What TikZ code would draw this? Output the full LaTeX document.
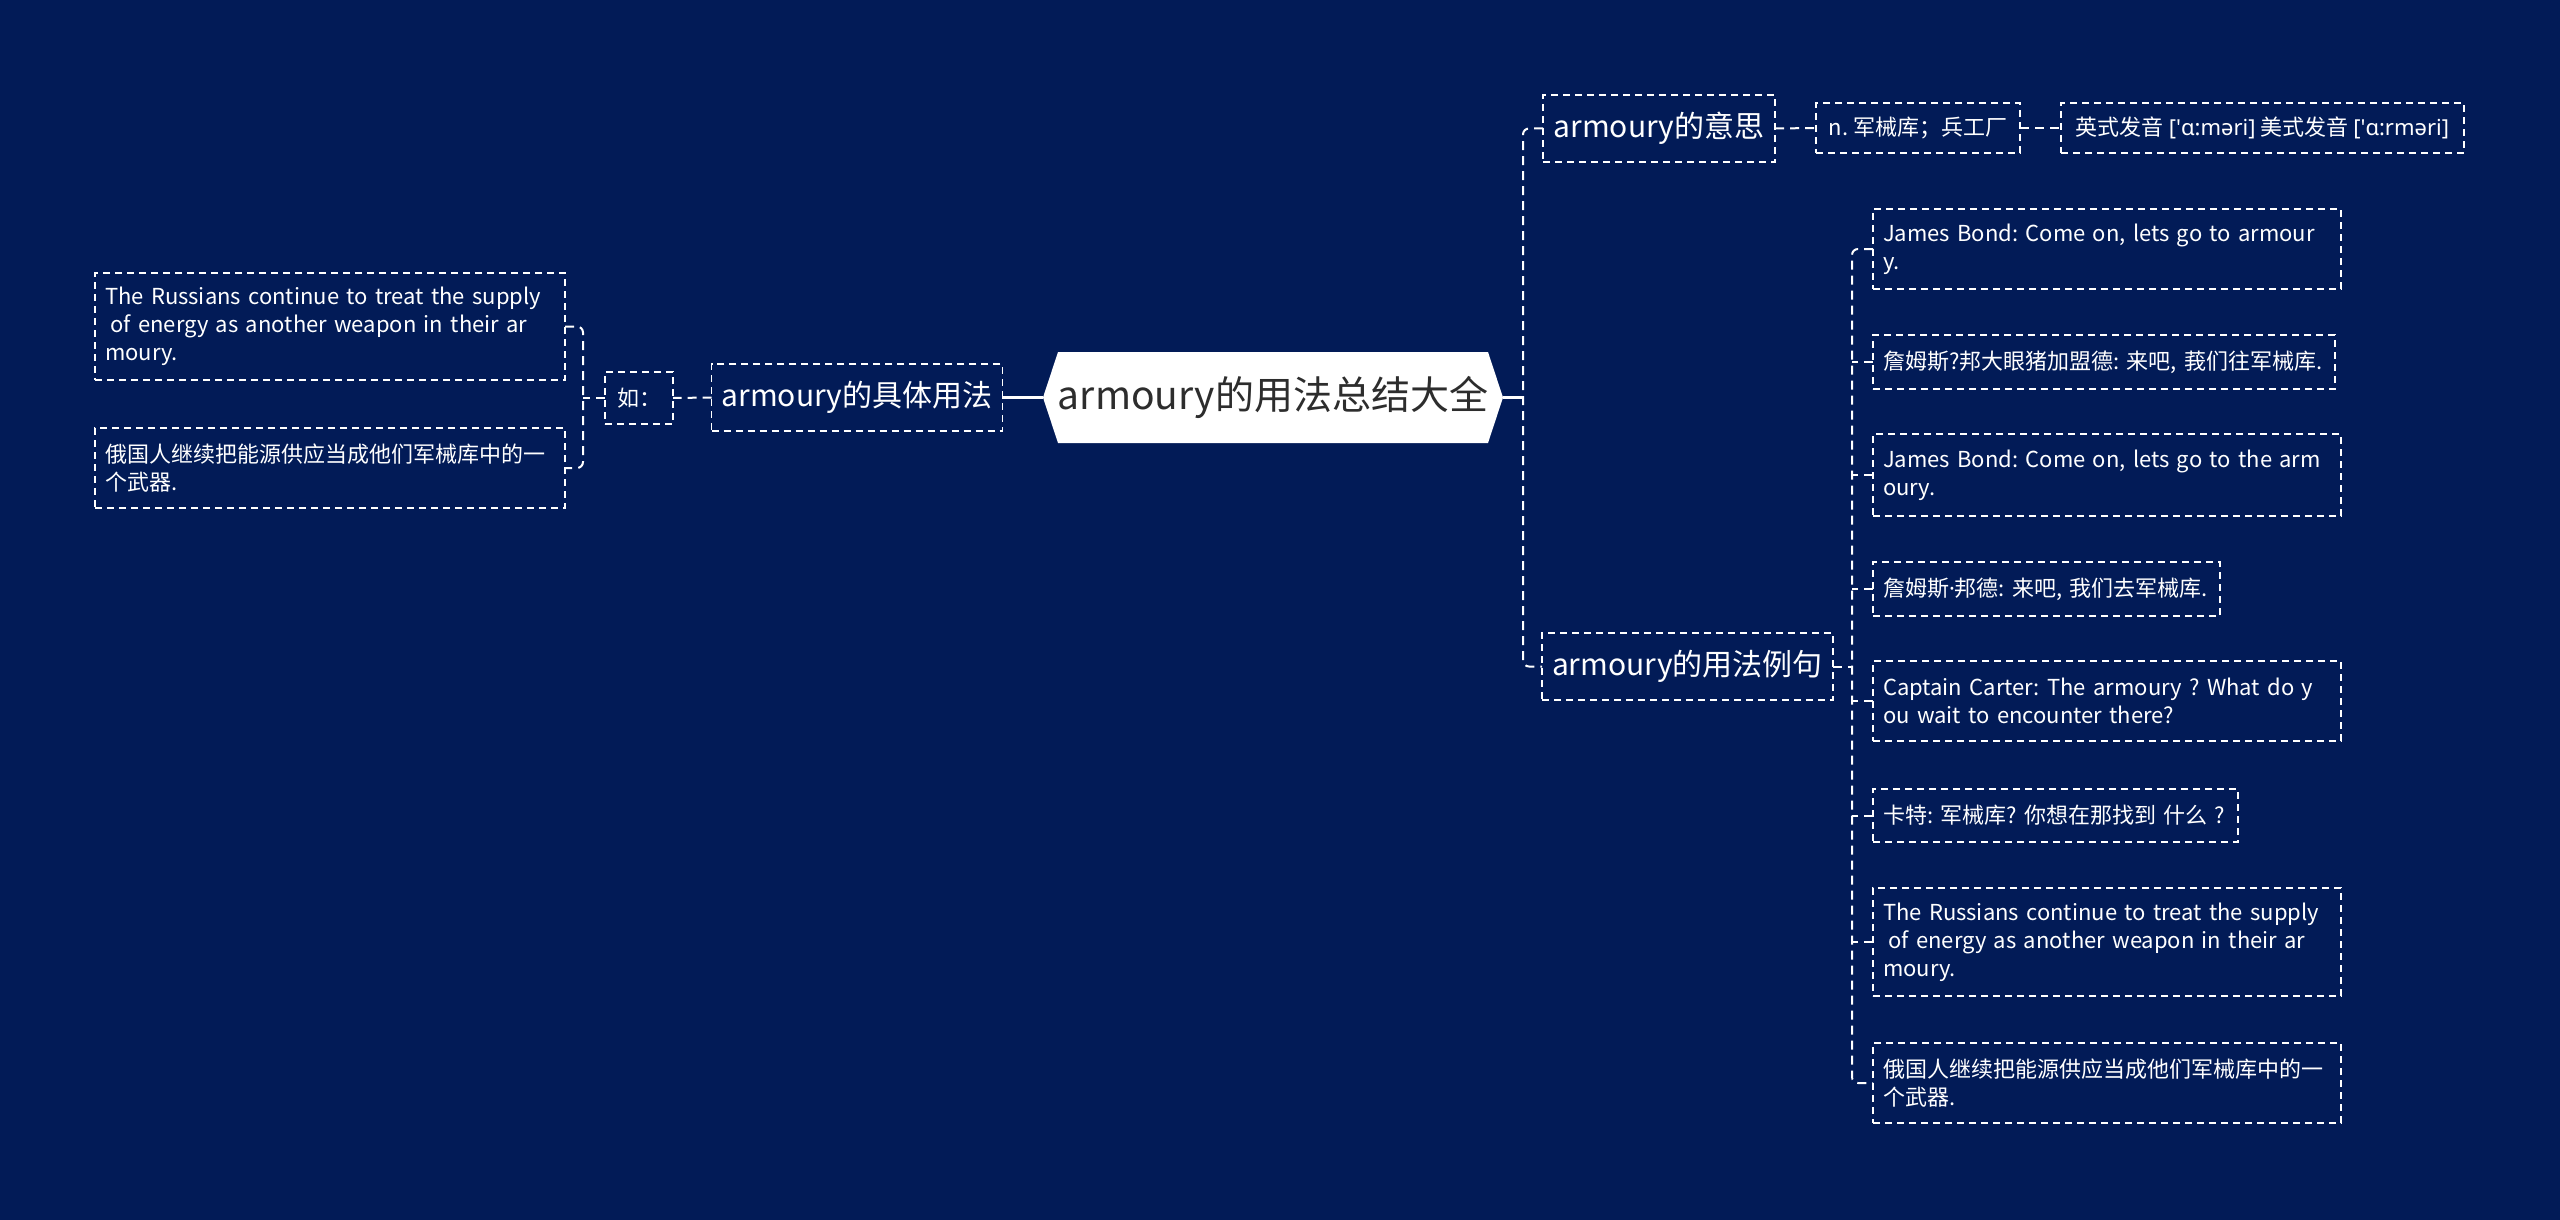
\documentclass[tikz,border=0pt]{standalone}
\usepackage{fontspec}
\setmainfont{Noto Sans CJK SC}
\newfontfamily\ipafont{Noto Sans}
\definecolor{bgnavy}{RGB}{2,27,87}
\definecolor{roottext}{RGB}{45,45,45}
\pgfdeclarelayer{bg}
\pgfsetlayers{bg,main}
\frenchspacing
\begin{document}
\frenchspacing
\begin{tikzpicture}[x=1pt,y=-1pt,
  box/.style={draw=white, line width=1.6pt, dash pattern=on 7pt off 5pt, text=white,
    inner xsep=10pt, inner ysep=0pt, outer sep=0pt, align=left},
  lvone/.style={box, align=center, font=\fontsize{30}{36}\selectfont},
  small/.style={box, font=\fontsize{22}{28}\selectfont},
  conn/.style={draw=white, line width=2pt, dash pattern=on 9pt off 6pt, rounded corners=6pt},
  solidconn/.style={draw=white, line width=2.4pt}]
\useasboundingbox (0,0) rectangle (2560,1220);
\begin{pgfonlayer}{bg}
\fill[bgnavy] (0,0) rectangle (2560,1220);
\end{pgfonlayer}

% root
\node[inner sep=0pt, outer sep=0pt, minimum width=460pt, minimum height=91pt,
  text=roottext, font=\fontsize{39}{46}\selectfont] (root) at (1273,397.5) {armoury的用法总结大全};
\begin{pgfonlayer}{bg}
\fill[white] (root.west) -- ([xshift=15pt]root.north west) -- ([xshift=-15pt]root.north east)
  -- (root.east) -- ([xshift=-15pt]root.south east) -- ([xshift=15pt]root.south west) -- cycle;
\end{pgfonlayer}

% left side
\node[lvone, minimum width=288pt, minimum height=67pt] (jtyf) at (857,397.5) {armoury的具体用法};
\node[small, minimum width=68pt, minimum height=52pt, align=center] (ru) at (639,398) {如：};
\node[small, text width=450pt, minimum height=107pt] (lt) at (330,326.5)
  {The Russians continue to treat the supply\\\hspace*{0.25em}of energy as another weapon in their ar\\moury.};
\node[small, text width=450pt, minimum height=80pt] (lb) at (330,468)
  {俄国人继续把能源供应当成他们军械库中的一\\个武器.};

% right side level 1
\node[lvone, minimum width=232pt, minimum height=67pt] (ys) at (1659,128.5) {armoury的意思};
\node[small, minimum width=204pt, minimum height=50pt, align=center] (nj) at (1918,128) {n. 军械库；兵工厂};
\node[small, minimum width=403pt, minimum height=50pt, align=center] (yf) at (2262.5,128)
  {英式发音 {\ipafont['ɑ:məri]} 美式发音 {\ipafont['ɑ:rməri]}};
\node[lvone, minimum width=289pt, minimum height=67pt] (lj) at (1687.5,666.5) {armoury的用法例句};

% sentences
\node[small, text width=448pt, minimum height=80pt] (s1) at (2107,249)
  {James Bond: Come on, lets go to armour\\y.};
\node[small, text width=442pt, minimum height=54pt] (s2) at (2104,362)
  {\mbox{詹姆斯?邦大眼猪加盟德: 来吧, 莪们往军械库.}};
\node[small, text width=448pt, minimum height=82pt] (s3) at (2107,475)
  {James Bond: Come on, lets go to the arm\\oury.};
\node[small, text width=327pt, minimum height=54pt] (s4) at (2046.5,589)
  {\mbox{詹姆斯{\ipafont·}邦德: 来吧, 我们去军械库.}};
\node[small, text width=448pt, minimum height=80pt] (s5) at (2107,701)
  {Captain Carter: The armoury ? What do y\\ou wait to encounter there?};
\node[small, text width=345pt, minimum height=53pt] (s6) at (2055.5,815.5)
  {\mbox{卡特: 军械库? 你想在那找到 什么 ?}};
\node[small, text width=448pt, minimum height=108pt] (s7) at (2107,942)
  {The Russians continue to treat the supply\\\hspace*{0.25em}of energy as another weapon in their ar\\moury.};
\node[small, text width=448pt, minimum height=80pt] (s8) at (2107,1083)
  {俄国人继续把能源供应当成他们军械库中的一\\个武器.};

% junction coordinates
\coordinate (rj) at (1523,397.5);
\coordinate (ljj) at (1852,666.5);
\coordinate (lfj) at (583,398);

% connectors: right of root
\draw[solidconn] (root.east) -- (rj);
\draw[conn] (ys.west) -| (lj.west -| rj) -- (lj.west);
\draw[conn] (ys.east) -- (nj.west);
\draw[conn] (nj.east) -- (yf.west);
% example sentences
\draw[conn] (lj.east) -- (ljj);
\draw[conn] (s1.west) -| (s8.west -| ljj) -- (s8.west);
\foreach \s in {s2,s3,s4,s5,s6,s7}{
  \draw[conn] (\s.west) -- (\s.west -| ljj);
}
% left of root
\draw[solidconn] (root.west) -- (jtyf.east);
\draw[conn] (jtyf.west) -- (ru.east);
\draw[conn] (ru.west) -- (lfj);
\draw[conn] (lt.east) -| (lb.east -| lfj) -- (lb.east);
\end{tikzpicture}
\end{document}
